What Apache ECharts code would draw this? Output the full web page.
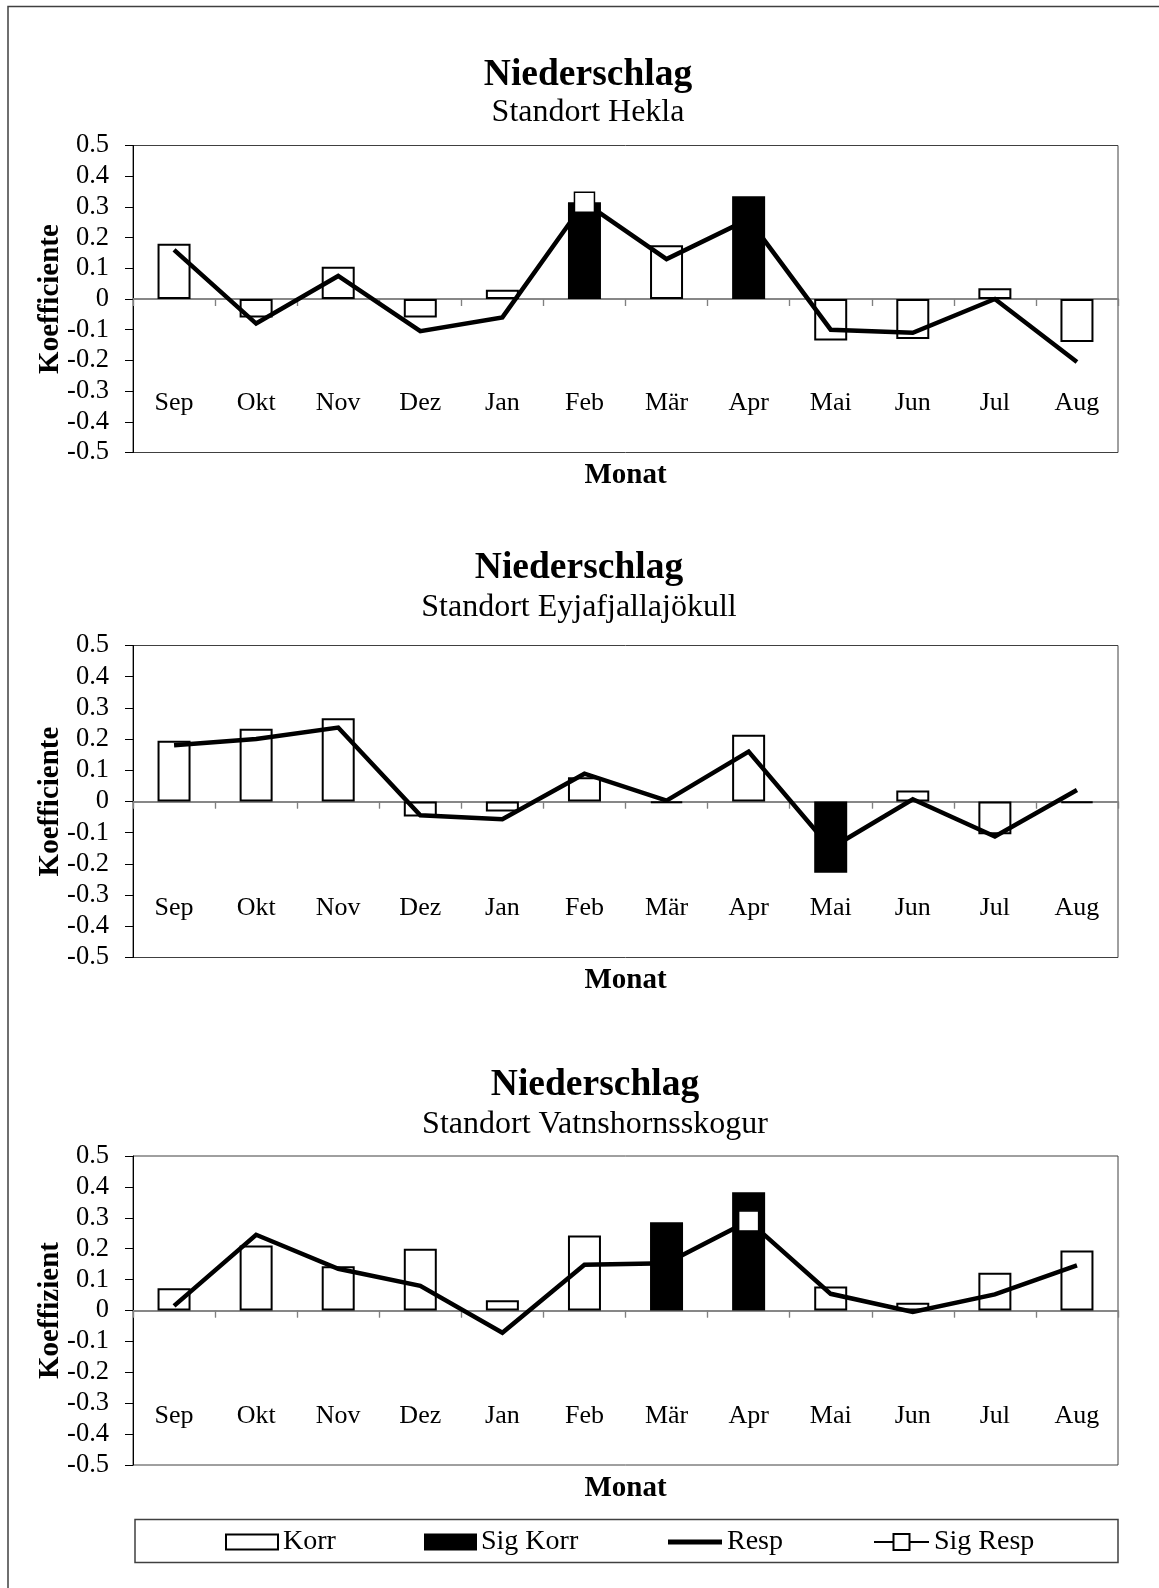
<!DOCTYPE html>
<html>
<head>
<meta charset="utf-8">
<script src="https://cdn.jsdelivr.net/npm/echarts@6/dist/echarts.min.js"></script>
<style>
html,body{margin:0;padding:0;background:#fff;}
#c{width:1159px;height:1588px;}
</style>
</head>
<body>
<div id="c"></div>
<script>
var months = ['Sep','Okt','Nov','Dez','Jan','Feb','Mär','Apr','Mai','Jun','Jul','Aug'];
var yTicks = [-0.5, 0.5, 0.1];

var titles = ['Niederschlag', 'Niederschlag', 'Niederschlag'];
var subtitles = ['Standort Hekla', 'Standort Eyjafjallajökull', 'Standort Vatnshornsskogur'];
var yNames = ['Koefficiente', 'Koefficiente', 'Koeffizient'];

// Panel 1: Hekla
var korr1    = [0.18, -0.06, 0.105, -0.06, 0.03, null, 0.175, null, -0.135, -0.13, 0.035, -0.14];
var sigKorr1 = [null, null, null, null, null, 0.315, null, 0.335, null, null, null, null];
var resp1    = [0.16, -0.08, 0.075, -0.105, -0.06, 0.315, 0.13, 0.26, -0.10, -0.11, 0.0, -0.205];
var sigResp1 = [null, null, null, null, null, 0.315, null, null, null, null, null, null];

// Panel 2: Eyjafjallajökull
var korr2    = [0.195, 0.233, 0.267, -0.048, -0.032, 0.078, -0.005, 0.214, null, 0.035, -0.105, -0.005];
var sigKorr2 = [null, null, null, null, null, null, null, null, -0.228, null, null, null];
var resp2    = [0.18, 0.20, 0.237, -0.044, -0.057, 0.089, 0.003, 0.16, -0.15, 0.007, -0.112, 0.037];
var sigResp2 = [null, null, null, null, null, null, null, null, null, null, null, null];

// Panel 3: Vatnshornsskogur
var korr3    = [0.072, 0.21, 0.143, 0.2, 0.033, 0.243, null, null, 0.078, 0.025, 0.122, 0.194];
var sigKorr3 = [null, null, null, null, null, null, 0.286, 0.383, null, null, null, null];
var resp3    = [0.015, 0.245, 0.135, 0.08, -0.072, 0.148, 0.153, 0.29, 0.054, -0.005, 0.052, 0.146];
var sigResp3 = [null, null, null, null, null, null, null, 0.29, null, null, null, null];

var panels = [
  {korr: korr1, sigKorr: sigKorr1, resp: resp1, sigResp: sigResp1},
  {korr: korr2, sigKorr: sigKorr2, resp: resp2, sigResp: sigResp2},
  {korr: korr3, sigKorr: sigKorr3, resp: resp3, sigResp: sigResp3}
];

var FONT = "'Liberation Serif', 'Times New Roman', Times, serif";
var layout = [
  {top: 145.5, height: 307, tx: 588, tt: 56, st: 97},
  {top: 645.5, height: 312, tx: 579, tt: 549, st: 592},
  {top: 1156, height: 309, tx: 595, tt: 1066, st: 1109}
];

var grid = [], xAxis = [], yAxis = [], series = [], title = [];
layout.forEach(function (L, g) {
  grid.push({left: 133, right: 41, top: L.top, height: L.height, show: true,
             borderColor: '#404040', borderWidth: 1, backgroundColor: 'transparent',
             outerBoundsMode: 'none', containLabel: false});
  title.push({text: titles[g], left: L.tx, top: L.tt, textAlign: 'center', padding: 0,
              textStyle: {fontFamily: FONT, fontWeight: 'bold', fontSize: 37.5, color: '#000'}});
  title.push({text: subtitles[g], left: L.tx, top: L.st, textAlign: 'center', padding: 0,
              textStyle: {fontFamily: FONT, fontWeight: 'normal', fontSize: 32, color: '#000'}});
  // label axis (labels low, inside the plot)
  xAxis.push({type: 'category', gridIndex: g, data: months, position: 'bottom',
    axisLine: {show: false, onZero: false}, axisTick: {show: false},
    axisLabel: {inside: true, margin: 36, fontFamily: FONT, fontSize: 26, color: '#000'},
    splitLine: {show: false},
    name: 'Monat', nameLocation: 'middle', nameGap: 9, nameMoveOverlap: false,
    nameTextStyle: {fontFamily: FONT, fontWeight: 'bold', fontSize: 29, color: '#000', verticalAlign: 'top'}});
  // zero line with ticks upward
  xAxis.push({type: 'category', gridIndex: g, data: months, position: 'top',
    axisLine: {show: true, onZero: true, onZeroAxisIndex: g, lineStyle: {color: '#808080', width: 1.5}},
    axisTick: {show: true, inside: true, length: 7, lineStyle: {color: '#808080', width: 1.2}},
    axisLabel: {show: false}, splitLine: {show: false}});
  // zero line with ticks downward
  xAxis.push({type: 'category', gridIndex: g, data: months, position: 'bottom',
    axisLine: {show: true, onZero: true, onZeroAxisIndex: g, lineStyle: {color: '#808080', width: 1.5}},
    axisTick: {show: true, inside: false, length: 7, lineStyle: {color: '#808080', width: 1.2}},
    axisLabel: {show: false}, splitLine: {show: false}});
  yAxis.push({type: 'value', gridIndex: g, min: yTicks[0], max: yTicks[1], interval: yTicks[2],
    axisLine: {show: true, onZero: false, lineStyle: {color: '#000', width: 1}},
    axisTick: {show: true, inside: false, length: 8, lineStyle: {color: '#000', width: 1}},
    axisLabel: {margin: 24, fontFamily: FONT, fontSize: 26.5, color: '#000'},
    splitLine: {show: false},
    name: yNames[g], nameLocation: 'middle', nameGap: 68, nameMoveOverlap: false,
    nameTextStyle: {fontFamily: FONT, fontWeight: 'bold', fontSize: 29, color: '#000'}});

  var P = panels[g];
  var xi = g * 3;
  series.push({name: 'Korr', type: 'bar', xAxisIndex: xi, yAxisIndex: g, data: P.korr,
    barWidth: 33, barGap: '-100%', z: 2,
    itemStyle: {color: '#fff', borderColor: '#000', borderWidth: 2}});
  series.push({name: 'Sig Korr', type: 'bar', xAxisIndex: xi, yAxisIndex: g, data: P.sigKorr,
    barWidth: 33, barGap: '-100%', z: 2,
    itemStyle: {color: '#000', borderColor: '#000', borderWidth: 2}});
  series.push({name: 'Resp', type: 'line', xAxisIndex: xi, yAxisIndex: g, data: P.resp,
    symbol: 'none', z: 4, silent: true,
    lineStyle: {color: '#000', width: 4.5, join: 'miter'}, itemStyle: {color: '#000'}});
  series.push({name: 'Sig Resp', type: 'line', xAxisIndex: xi, yAxisIndex: g, data: P.sigResp,
    symbol: 'rect', symbolSize: 20, showSymbol: true, z: 5,
    lineStyle: {color: '#000', width: 2},
    itemStyle: {color: '#fff', borderColor: '#000', borderWidth: 1.5}});
});

var legendText = {fontFamily: FONT, fontSize: 28, color: '#000'};
var legend = [
  {data: ['Korr'], left: 225, top: 1528, padding: 0, itemWidth: 52, itemHeight: 15, icon: 'rect', textStyle: legendText, selectedMode: false},
  {data: ['Sig Korr'], left: 424, top: 1528, padding: 0, itemWidth: 51, itemHeight: 15, icon: 'rect', textStyle: legendText, selectedMode: false},
  {data: ['Resp'], left: 668, top: 1528, padding: 0, itemWidth: 54, itemHeight: 5, icon: 'rect', textStyle: legendText, selectedMode: false},
  {data: ['Sig Resp'], left: 873, top: 1528, padding: 0, itemWidth: 55, itemHeight: 20, textStyle: legendText, selectedMode: false}
];

var chart = echarts.init(document.getElementById('c'), null, {renderer: 'canvas'});
chart.setOption({
  backgroundColor: '#fff',
  animation: false,
  textStyle: {fontFamily: FONT},
  title: title,
  grid: grid,
  xAxis: xAxis,
  yAxis: yAxis,
  legend: legend,
  tooltip: {show: false},
  series: series,
  graphic: [
    {type: 'polyline', silent: true, shape: {points: [[8, 1600], [8, 6.5], [1170, 6.5]]},
     style: {stroke: '#404040', lineWidth: 1.5, fill: null}},
    {type: 'rect', silent: true, shape: {x: 135, y: 1519.5, width: 983, height: 43},
     style: {stroke: '#404040', lineWidth: 1.5, fill: null}, z: -1}
  ]
});
</script>
</body>
</html>
